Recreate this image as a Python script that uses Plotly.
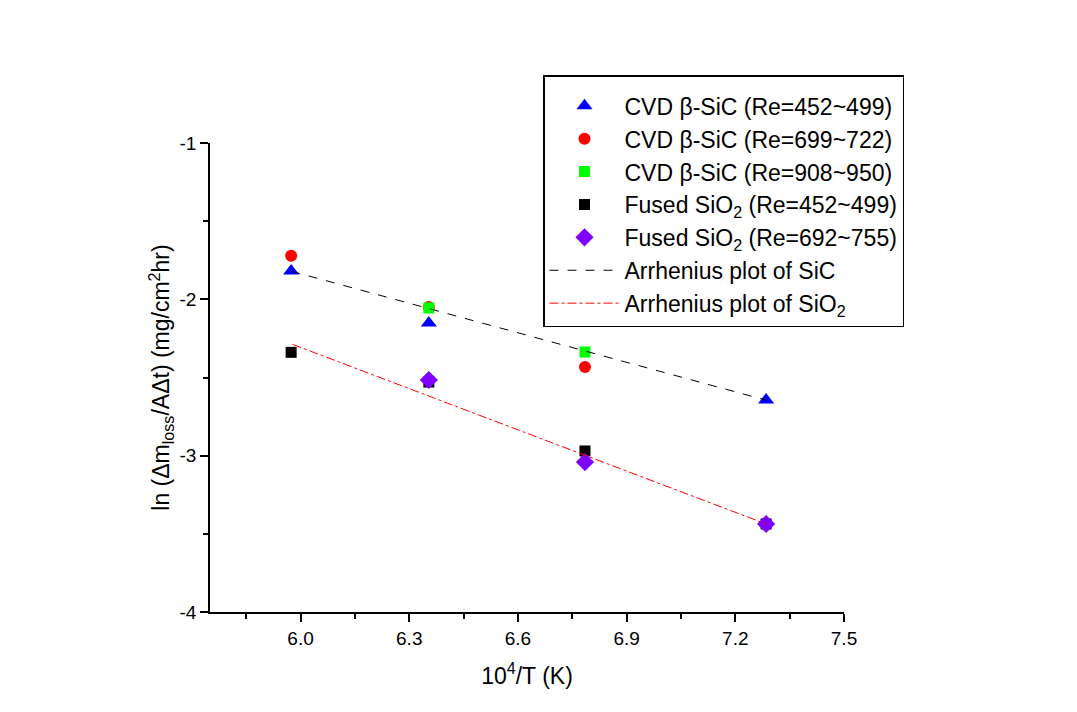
import plotly.graph_objects as go

# data
x_tri = [5.974, 6.354, 7.285]
y_tri = [-1.819, -2.151, -2.644]
x_circ = [5.974, 6.354, 6.785]
y_circ = [-1.721, -2.049, -2.433]
x_green = [6.354, 6.785]
y_green = [-2.055, -2.337]
x_black = [5.974, 6.354, 6.785, 7.285]
y_black = [-2.339, -2.529, -2.970, -3.437]
x_diam = [6.354, 6.785, 7.285]
y_diam = [-2.516, -3.041, -3.437]
x_fit_sic = [5.974, 7.285]
y_fit_sic = [-1.820, -2.645]
x_fit_sio2 = [5.978, 7.285]
y_fit_sio2 = [-2.288, -3.437]

x_tickvals = [6.0, 6.3, 6.6, 6.9, 7.2, 7.5]
x_ticktext = ["6.0", "6.3", "6.6", "6.9", "7.2", "7.5"]
y_tickvals = [-4, -3, -2, -1]
y_ticktext = ["-4", "-3", "-2", "-1"]

font = "Liberation Sans, Arial, sans-serif"

fig = go.Figure()
fig.add_trace(go.Scatter(x=x_tri, y=y_tri, mode="markers", name="CVD β-SiC (Re=452~499)",
                         marker=dict(symbol="triangle-up", size=14, color="#0000ff")))
fig.add_trace(go.Scatter(x=x_circ, y=y_circ, mode="markers", name="CVD β-SiC (Re=699~722)",
                         marker=dict(symbol="circle", size=12, color="#ff0000")))
fig.add_trace(go.Scatter(x=x_green, y=y_green, mode="markers", name="CVD β-SiC (Re=908~950)",
                         marker=dict(symbol="square", size=11, color="#00ff00")))
fig.add_trace(go.Scatter(x=x_black, y=y_black, mode="markers", name="Fused SiO<sub>2</sub> (Re=452~499)",
                         marker=dict(symbol="square", size=11, color="#000000")))
fig.add_trace(go.Scatter(x=x_diam, y=y_diam, mode="markers", name="Fused SiO<sub>2</sub> (Re=692~755)",
                         marker=dict(symbol="diamond", size=14, color="#8000ff")))
fig.add_trace(go.Scatter(x=x_fit_sic, y=y_fit_sic, mode="lines", name="Arrhenius plot of SiC",
                         line=dict(color="#000000", width=1, dash="dash")))
fig.add_trace(go.Scatter(x=x_fit_sio2, y=y_fit_sio2, mode="lines", name="Arrhenius plot of SiO<sub>2</sub>",
                         line=dict(color="#ff0000", width=1, dash="dashdot")))

axis_common = dict(showgrid=False, zeroline=False, showline=True, linecolor="black", linewidth=1.5,
                   ticks="outside", ticklen=8, tickwidth=1.5, tickcolor="black", automargin=False,
                   tickfont=dict(family=font, size=19, color="black"), mirror=False)

# page body has an 8px offset; plot area targeted at screen x 210-844, y 143-612
fig.update_layout(
    width=1077, height=712,
    margin=dict(l=202, r=241, t=135, b=108, autoexpand=False),
    plot_bgcolor="white", paper_bgcolor="white",
    font=dict(family=font, color="black"),
    xaxis=dict(range=[5.75, 7.5], tickmode="array", tickvals=x_tickvals, ticktext=x_ticktext,
               minor=dict(dtick=0.15, tick0=6.0, ticks="outside", ticklen=5, tickwidth=1.5, tickcolor="black"),
               title=dict(text="10<sup>4</sup>/T (K)", font=dict(family=font, size=23), standoff=20),
               **axis_common),
    yaxis=dict(range=[-4, -1], tickmode="array", tickvals=y_tickvals, ticktext=y_ticktext,
               minor=dict(dtick=0.5, tick0=-4, ticks="outside", ticklen=5, tickwidth=1.5, tickcolor="black"),
               title=dict(text="ln (Δm<sub>loss</sub>/AΔt) (mg/cm<sup>2</sup>hr)", font=dict(family=font, size=23), standoff=3),
               **axis_common),
    legend=dict(x=(543 - 210) / 634, y=(612 - 75) / 469, xanchor="left", yanchor="top",
                bordercolor="black", borderwidth=1.5, bgcolor="white",
                title=dict(text=" ", font=dict(size=6)),
                font=dict(family=font, size=23), itemwidth=70, tracegroupgap=0),
    showlegend=True,
)

fig.write_html("out.html")
